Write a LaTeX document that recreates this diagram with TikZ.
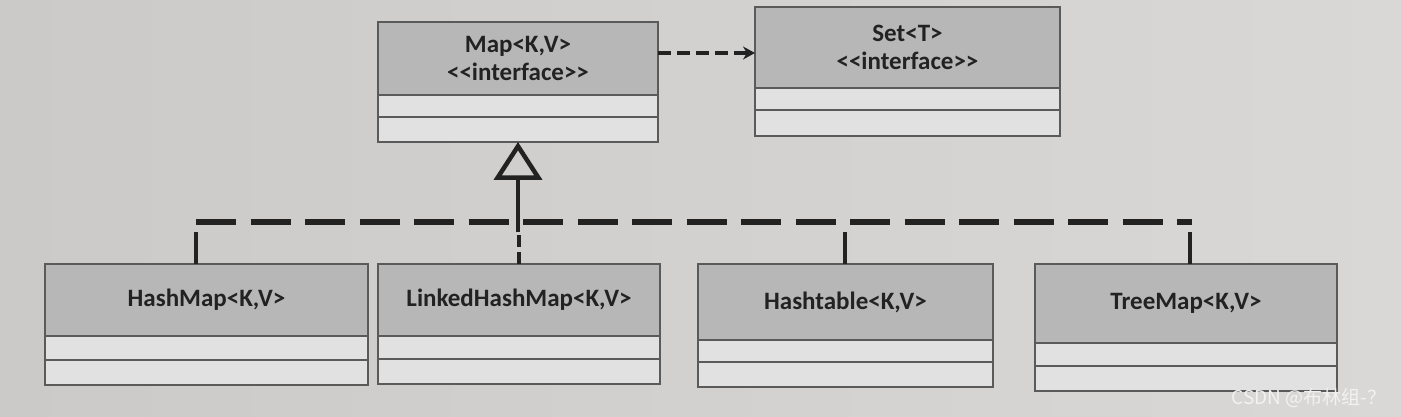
\documentclass[tikz,border=0pt]{standalone}
\usepackage{fontspec}
\setmainfont{Carlito}[Ligatures=TeXOff]
\newfontfamily\cjk{Noto Sans CJK SC}
\usetikzlibrary{arrows.meta}
\definecolor{paperL}{HTML}{CBCAC9}
\definecolor{paperR}{HTML}{D9D8D7}
\definecolor{hdr}{HTML}{B8B7B7}
\definecolor{cmp}{HTML}{E2E1E1}
\definecolor{edge}{HTML}{5A5A5A}
\definecolor{ink}{HTML}{222222}
\tikzset{
  hdrbox/.style={draw=edge, fill=hdr, line width=1.5pt, inner sep=0pt, outer sep=0pt,
    anchor=north west, font=\fontsize{25}{28}\selectfont\bfseries, text=ink, align=center},
  cmpbox/.style={draw=edge, fill=cmp, line width=1.5pt, inner sep=0pt, outer sep=0pt, anchor=north},
  conn/.style={draw=ink, line width=4.5pt},
  busline/.style={draw=ink, line width=5.5pt, dash pattern=on 40pt off 14.5pt},
  shortdash/.style={dash pattern=on 12pt off 5pt},
  depdash/.style={dash pattern=on 13pt off 6pt},
  realtip/.style={-{Triangle[open, length=38pt, width=48pt]}, line join=miter},
  deptip/.style={-{Stealth[length=12pt, width=13pt]}},
  wmark/.style={font=\cjk\fontsize{19}{19}\selectfont, text=white!95!black, anchor=east}
}
% name, x, y, width, header h, comp1 h, comp2 h, text
\newcommand{\umlclass}[8]{%
  \node[hdrbox, minimum width=#4, minimum height=#5] (#1) at (#2,#3) {#8};
  \node[cmpbox, minimum width=#4, minimum height=#6] (#1a) at (#1.south) {};
  \node[cmpbox, minimum width=#4, minimum height=#7] (#1b) at (#1a.south) {};
}
\begin{document}
\begin{tikzpicture}[x=1pt,y=-1pt]
  \useasboundingbox (0,0) rectangle (1401,417);
  \shade[left color=paperL, right color=paperR] (0,0) rectangle (1401,417);

  \umlclass{map}{378}{22}{280}{73}{22}{25}{Map<K,V>\\<<interface>>}
  \umlclass{set}{755}{7}{305}{81}{22}{26}{Set<T>\\<<interface>>}
  \umlclass{hm}{45}{264}{323}{72}{24}{25}{HashMap<K,V>}
  \umlclass{lhm}{378}{264}{282}{72}{23}{25}{LinkedHashMap<K,V>}
  \umlclass{ht}{698}{264}{295}{76}{22}{25}{Hashtable<K,V>}
  \umlclass{tm}{1035}{264}{302}{79}{23}{25}{TreeMap<K,V>}

  % dependency Map -> Set
  \coordinate (depy) at (0,53);
  \draw[conn, depdash, deptip] (map.east |- depy) -- (set.west |- depy);

  % realization bus
  \coordinate (busL) at (196,222);
  \coordinate (busR) at (1192,222);
  \draw[busline] (busL) -- (busR);

  \coordinate (stubL) at (196,232);
  \coordinate (stubH) at (845,232);
  \coordinate (stubT) at (1190,232);
  \draw[conn] (stubL) -- (stubL |- hm.north);
  \draw[conn] (stubH) -- (stubH |- ht.north);
  \draw[conn] (stubT) -- (stubT |- tm.north);

  \coordinate (stubM) at (518,232);
  \draw[conn, shortdash] (lhm.north) -- (lhm.north |- stubM);
  \draw[conn, realtip] (mapb.south |- stubM) -- (mapb.south);

  \node[wmark] (wm) at (1390,398) {CSDN @布林组-？};
\end{tikzpicture}
\end{document}
